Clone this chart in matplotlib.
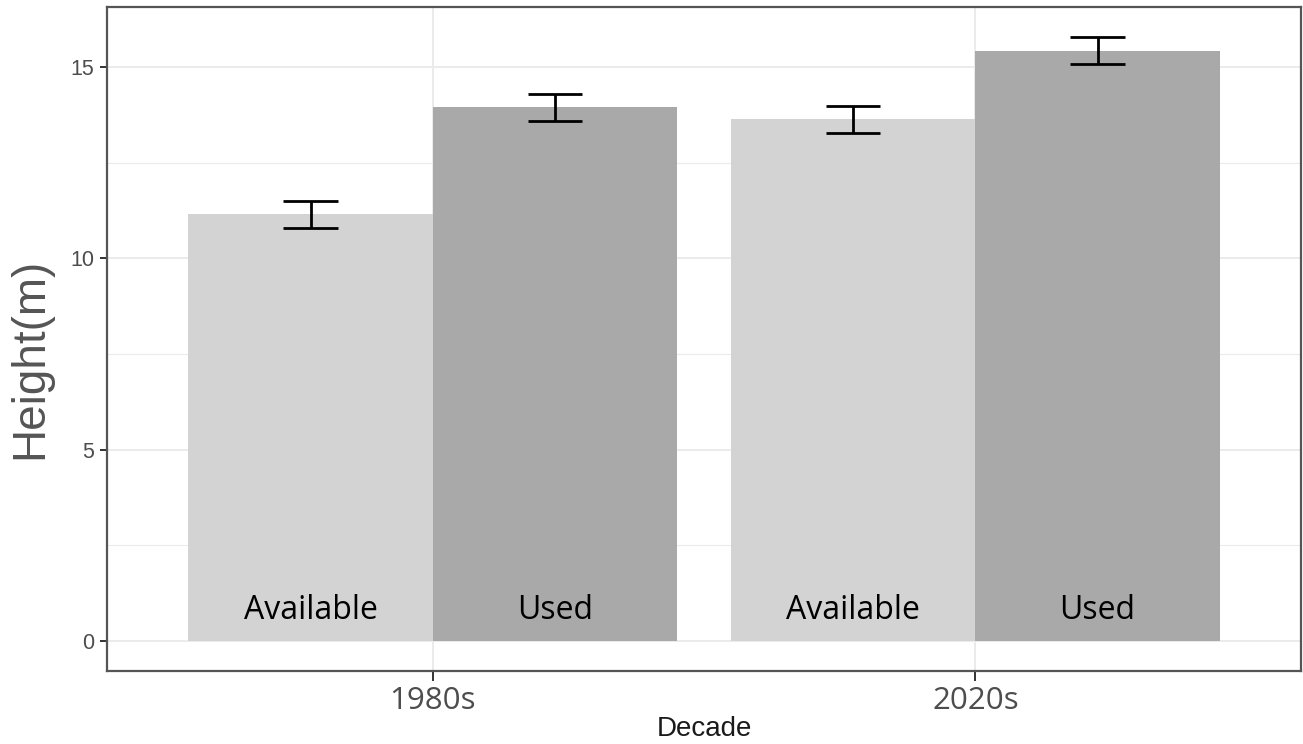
import matplotlib
matplotlib.use("Agg")
import matplotlib.pyplot as plt
import numpy as np

decades = ["1980s", "2020s"]
groups = ["Available", "Used"]
means = {"Available": [11.15, 13.63], "Used": [13.95, 15.43]}
ses = {"Available": [0.36, 0.36], "Used": [0.35, 0.36]}
colors = {"Available": "#D3D3D3", "Used": "#A9A9A9"}

fig = plt.figure(figsize=(13.03, 7.44), dpi=100)
ax = fig.add_axes([0.0821, 0.0981, 0.9164, 0.8925])

x = np.arange(1, len(decades) + 1)
bw = 0.45
offsets = {"Available": -bw / 2, "Used": bw / 2}

ax.set_axisbelow(True)
ax.set_yticks([0, 5, 10, 15])
ax.set_yticks([2.5, 7.5, 12.5], minor=True)
ax.grid(True, which="major", color="#EBEBEB", linewidth=1.4)
ax.grid(True, which="minor", axis="y", color="#EBEBEB", linewidth=0.8)

for g in groups:
    xs = x + offsets[g]
    ax.bar(xs, means[g], width=bw, color=colors[g], edgecolor="none", zorder=2)
    ax.errorbar(xs, means[g], yerr=ses[g], fmt="none", ecolor="black",
                elinewidth=2.0, capsize=0, zorder=3)
    for xi, m, s in zip(xs, means[g], ses[g]):
        for yy in (m - s, m + s):
            ax.plot([xi - 0.05, xi + 0.05], [yy, yy], color="black",
                    linewidth=2.0, solid_capstyle="butt", zorder=3)
        ax.text(xi, 0.8, g, ha="center", va="center", fontsize=23,
                family="Open Sans", color="black", zorder=4)

ax.set_xlim(0.4, 2.6)
ax.set_ylim(-0.79, 16.57)
ax.set_xticks(x)
ax.set_xticklabels(decades, fontsize=22.5, family="Open Sans", color="#4D4D4D")
for lab in ax.get_yticklabels():
    lab.set_fontsize(15.5)
    lab.set_family("Liberation Sans")
    lab.set_color("#4D4D4D")
ax.tick_params(axis="y", which="major", length=5, width=1.4, color="#333333", pad=4)
ax.tick_params(axis="y", which="minor", length=0)
ax.tick_params(axis="x", length=7, width=1.4, color="#333333", pad=4)

for sp in ax.spines.values():
    sp.set_color("#555555")
    sp.set_linewidth(1.6)

ax.set_ylabel("Height(m)", fontsize=33, family="Liberation Sans", color="#555555")
ax.yaxis.set_label_coords(-0.046, 0.471)
ax.set_xlabel("Decade", fontsize=20, family="Liberation Sans", color="#1A1A1A", labelpad=0)

fig.savefig("out.png", dpi=100)
